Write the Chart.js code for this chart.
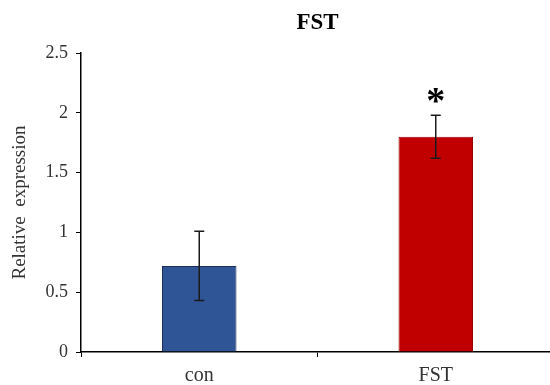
<!DOCTYPE html>
<html>
<head>
<meta charset="utf-8">
<script src="https://cdn.jsdelivr.net/npm/chart.js@4.4.0/dist/chart.umd.min.js"></script>
<style>
  html, body { margin: 0; padding: 0; background: #fff; overflow: hidden; }
  #wrap { width: 554px; height: 385px; }
</style>
</head>
<body>
<div id="wrap"><canvas id="grafico"></canvas></div>
<script>
// datos del gráfico
const categorias = ['con', 'FST'];
const medias = [0.72, 1.80];
const errores = [0.29, 0.18];
const marcas = ['', '*'];
const colores = ['#2F5597', '#C00000'];
const bordes = ['#1C2F57', '#9A0000'];
const yMax = 2.5;
const yPaso = 0.5;

const serif = "'Liberation Serif', 'DejaVu Serif', serif";

// barras de error y asterisco
const errorBars = {
  id: 'errorBars',
  afterDatasetsDraw(chart) {
    const ctx = chart.ctx;
    const y = chart.scales.y;
    const meta = chart.getDatasetMeta(0);
    ctx.save();
    meta.data.forEach((bar, i) => {
      const x = bar.x;
      const top = y.getPixelForValue(medias[i] + errores[i]);
      const bottom = y.getPixelForValue(medias[i] - errores[i]);
      ctx.strokeStyle = '#1a1a1a';
      ctx.lineWidth = 1.5;
      ctx.beginPath();
      ctx.moveTo(x, top); ctx.lineTo(x, bottom);
      ctx.moveTo(x - 5, top); ctx.lineTo(x + 5, top);
      ctx.moveTo(x - 5, bottom); ctx.lineTo(x + 5, bottom);
      ctx.stroke();
      if (marcas[i]) {
        ctx.fillStyle = '#000';
        ctx.font = 'bold 38px ' + serif;
        ctx.textAlign = 'center';
        ctx.textBaseline = 'alphabetic';
        const m = ctx.measureText(marcas[i]);
        const centro = top - 20;
        const base = centro + (m.actualBoundingBoxAscent - m.actualBoundingBoxDescent) / 2;
        ctx.fillText(marcas[i], x, base);
      }
    });
    ctx.restore();
  }
};

new Chart(document.getElementById('grafico'), {
  type: 'bar',
  data: {
    labels: categorias,
    datasets: [{
      data: medias,
      backgroundColor: colores,
      borderColor: bordes,
      borderWidth: 1,
      barPercentage: 1,
      categoryPercentage: 0.315
    }]
  },
  options: {
    responsive: true,
    maintainAspectRatio: false,
    animation: false,
    layout: { padding: 0 },
    plugins: {
      legend: { display: false },
      tooltip: { enabled: false },
      title: {
        display: true,
        fullSize: false,
        text: 'FST',
        color: '#000',
        font: { family: serif, size: 23, weight: 'bold' },
        padding: { top: 9, bottom: 16.4 }
      }
    },
    scales: {
      x: {
        afterFit(scale) { scale.height = 33; },
        grid: { display: true, offset: true, drawOnChartArea: false, drawTicks: true, tickLength: 5, color: '#000', lineWidth: 1 },
        border: { display: true, color: '#000', width: 1.5 },
        ticks: { color: '#333', padding: 7, font: { family: serif, size: 20 } }
      },
      y: {
        min: 0,
        max: yMax,
        afterFit(scale) { scale.width = 81; },
        grid: { display: true, drawOnChartArea: false, drawTicks: true, tickLength: 5, color: '#000', lineWidth: 1 },
        border: { display: true, color: '#000', width: 1.5 },
        ticks: {
          stepSize: yPaso,
          color: '#333',
          padding: 8,
          font: { family: serif, size: 18 },
          callback: (v) => String(v)
        },
        title: {
          display: true,
          text: 'Relative  expression',
          color: '#333',
          font: { family: serif, size: 19 },
          padding: { top: 9, bottom: 0 }
        }
      }
    }
  },
  plugins: [errorBars]
});
</script>
</body>
</html>
